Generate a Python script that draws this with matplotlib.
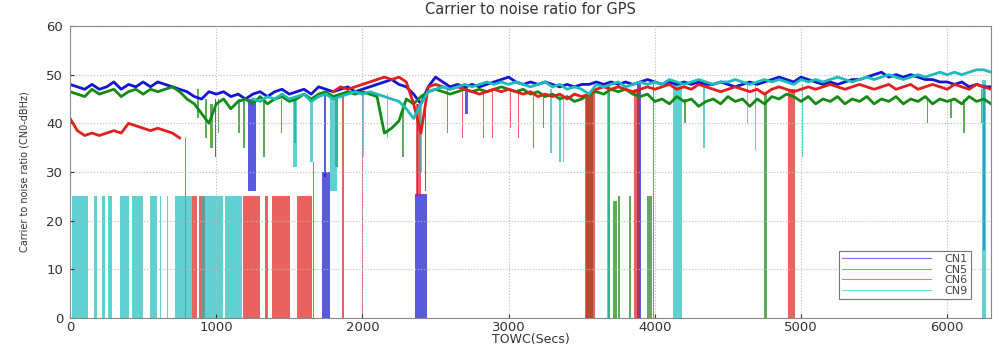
import numpy as np
import matplotlib
matplotlib.use('Agg')
import matplotlib.pyplot as plt
from matplotlib.lines import Line2D

nan = np.nan

# sample times (s), one level every 50 s
towc = np.arange(0, 6301, 50)

cn1_level = [48, 47.5, 47, 48, 47, 47.5, 48.5, 47, 48, 47.5,
             48.5, 47.5, 48.5, 48, 47.5, 47, 46.5, 45.5, 45, 46.5,
             46, 46.5, 45.5, 46, 45, 46, 46.5, 45.5, 46.5, 47,
             46, 46.5, 47, 46, 47.5, 47, 46.5, 47, 47.5, 46.5,
             47, 47.5, 48, 48.5, 49, 48, 47.5, 46, 44, 47.5,
             49.5, 48.5, 47.5, 48, 47.5, 48, 47.5, 48, 48.5, 49,
             49.5, 48.5, 48, 48.5, 48, 48.5, 48, 47.5, 48, 47.5,
             48, 48, 48.5, 48, 48.5, 48, 48.5, 48, 48.5, 49,
             48.5, 48, 48.5, 48, 48.5, 48, 48.5, 48, 48, 48.5,
             48, 47.5, 48, 48.5, 48, 48.5, 49, 49.5, 49, 48.5,
             49.5, 49, 48.5, 48, 48.5, 48, 48.5, 49, 49, 49.5,
             50, 50.5, 49.5, 50, 49.5, 50, 49.5, 49, 49, 48.5,
             48.5, 48, 48.5, 47.5, 48, 47.5, 47.5]

cn5_level = [46.5, 46, 45.5, 47, 46, 46.5, 47, 45.5, 46.5, 47,
             46, 47, 46.5, 47, 47.5, 46.5, 45, 44, 42, 40,
             44, 45, 43, 44.5, 45, 44, 45.5, 44, 45, 45.5,
             44.5, 45, 46, 45, 46, 46.5, 45.5, 46, 46.5, 46,
             46.5, 46, 45.5, 38, 39, 40.5, 45, 44, 45.5, 46.5,
             47, 46.5, 46, 46.5, 47, 46.5, 47, 46.5, 47, 47.5,
             47, 46.5, 47, 46, 46.5, 45.5, 46, 45, 45.5, 44.5,
             45, 46, 46.5, 46, 47, 46.5, 47, 46, 45.5, 46,
             44.5, 45, 44, 45.5, 44.5, 45, 43.5, 44.5, 45, 44,
             45.5, 44.5, 45, 43.5, 45, 44, 45.5, 45, 46, 45.5,
             44.5, 45.5, 44, 45, 44.5, 45.5, 44, 45, 44.5, 45.5,
             44, 45, 44.5, 45.5, 44, 45, 44.5, 45.5, 44, 45,
             44.5, 45, 44, 45.5, 44.5, 45, 44]

cn6_level = [41, 38.5, 37.5, 38, 37.5, 38, 38.5, 38, 40, 39.5,
             39, 38.5, 39, 38.5, 38, 37, nan, nan, nan, nan,
             nan, nan, nan, nan, nan, nan, nan, nan, nan, nan,
             nan, nan, nan, nan, nan, nan, 46.5, 47.5, 47, 47.5,
             48, 48.5, 49, 49.5, 49, 49.5, 48.5, 44, 38, 47.5,
             48, 47.5, 47, 47.5, 47, 46.5, 46, 46.5, 47, 46.5,
             47, 46.5, 46, 46.5, 45.5, 46, 45.5, 46, 45, 46,
             45.5, 46, 47, 47.5, 47, 47.5, 47, 46.5, 47, 47.5,
             47, 47.5, 48, 47, 47.5, 47, 48, 47.5, 47, 46.5,
             47, 47.5, 47, 46.5, 47, 46, 47, 47.5, 47, 46.5,
             47, 47.5, 47, 47.5, 48, 47.5, 47, 47.5, 48, 47.5,
             47, 47.5, 48, 47, 47.5, 48, 47, 47.5, 48, 47.5,
             47, 48, 47.5, 47, 48, 47.5, 47]

cn9_level = [nan, nan, nan, nan, nan, nan, nan, nan, nan, nan,
             nan, nan, nan, nan, nan, nan, nan, nan, nan, nan,
             nan, nan, nan, nan, nan, 45, 44.5, 45.5, 45, 46,
             45, 45.5, 46, 44.5, 45.5, 46, 45, 45.5, 46, 46.5,
             46, 46.5, 46, 45.5, 45, 44.5, 43, 41, 44, 46.5,
             47, 47.5, 47, 47.5, 48, 47.5, 48, 48.5, 48, 48.5,
             48, 48.5, 48, 47.5, 48, 48.5, 47.5, 48, 47, 47.5,
             47, 46, 48, 47.5, 48, 48.5, 47.5, 48, 48.5, 48,
             48.5, 48, 49, 48.5, 48, 48.5, 49, 48.5, 48, 48.5,
             48.5, 49, 48.5, 48, 48.5, 49, 48.5, 49, 48.5, 48,
             49, 48.5, 49, 48.5, 49, 49.5, 49, 48.5, 49, 49.5,
             49, 49.5, 50, 49.5, 49, 49.5, 50, 49.5, 50, 50.5,
             50, 50.5, 50, 50.5, 51, 51, 50.5]

# signal drop-outs: (start s, end s, lowest dB-Hz, highest dB-Hz)
cn1_drops = [(990, 1000, 33, 45), (1220, 1270, 26, 45), (1725, 1780, 0, 30),
             (1740, 1748, 29, 46), (2360, 2440, 0, 25.5), (2375, 2383, 25, 44),
             (2425, 2432, 26, 44), (2700, 2720, 42, 48), (3880, 3905, 0, 48),
             (6245, 6258, 14, 48)]

cn5_drops = [(870, 880, 41, 47), (920, 935, 37, 45), (960, 975, 35, 44),
             (1010, 1020, 38, 45), (1150, 1160, 38, 45), (1185, 1200, 35, 45),
             (1320, 1335, 33, 45), (1440, 1450, 38, 45), (1530, 1545, 36, 45),
             (1812, 1830, 31, 45), (2270, 2285, 33, 44), (3530, 3580, 0, 46),
             (3680, 3690, 0, 48), (3715, 3740, 0, 24), (3750, 3765, 0, 25),
             (3825, 3835, 0, 25), (3945, 3980, 0, 25), (3988, 3996, 0, 48),
             (4200, 4210, 40, 45), (4745, 4765, 0, 46), (5860, 5870, 40, 45),
             (6020, 6030, 41, 45), (6110, 6120, 38, 45)]

cn6_drops = [(787, 795, 0, 37), (835, 870, 0, 25), (880, 925, 0, 25),
             (1185, 1300, 0, 25), (1335, 1355, 0, 25), (1380, 1505, 0, 25),
             (1550, 1655, 0, 25), (1660, 1668, 0, 32), (1862, 1872, 0, 46),
             (2000, 2006, 0, 46), (2365, 2400, 25, 44), (2578, 2586, 38, 47),
             (2680, 2688, 37, 47), (2825, 2833, 37, 47), (2885, 2893, 37, 47),
             (3010, 3018, 39, 47), (3065, 3073, 37, 46), (3167, 3175, 35, 46),
             (3235, 3243, 39, 46), (3525, 3590, 0, 46), (3855, 3900, 0, 47),
             (4910, 4960, 0, 47), (6230, 6240, 40, 47)]

cn9_drops = [(14, 123, 0, 25), (165, 185, 0, 25), (220, 240, 0, 25),
             (260, 290, 0, 25), (340, 400, 0, 25), (425, 500, 0, 25),
             (545, 595, 0, 25), (615, 622, 0, 25), (665, 672, 0, 25),
             (720, 790, 0, 25), (790, 835, 0, 25), (900, 1045, 0, 25),
             (1060, 1175, 0, 25), (1525, 1550, 31, 45), (1640, 1660, 32, 45),
             (1780, 1825, 26, 45), (2000, 2008, 33, 46), (2170, 2178, 37, 46),
             (2395, 2405, 30, 44), (3283, 3300, 34, 47), (3345, 3360, 32, 46),
             (3372, 3380, 32, 46), (3675, 3688, 0, 48), (4125, 4185, 0, 48),
             (4330, 4340, 35, 48), (4630, 4640, 40, 48), (4685, 4695, 34.5, 48),
             (5007, 5015, 33, 48), (6238, 6262, 0, 49)]

series = [
    ('CN1', cn1_level, cn1_drops, '#1414d2'),
    ('CN5', cn5_level, cn5_drops, '#138a13'),
    ('CN6', cn6_level, cn6_drops, '#e0201c'),
    ('CN9', cn9_level, cn9_drops, '#1cbcbc'),
]

fig = plt.figure(figsize=(10.02, 3.44), dpi=100)
ax = fig.add_axes([0.0699, 0.0756, 0.9192, 0.8488])

for name, level, drops, col in series:
    for t0, t1, lo, hi in drops:
        ax.bar(t0, hi - lo, width=t1 - t0, bottom=lo, align='edge',
               color=col, alpha=0.7, linewidth=0)
    ax.plot(towc, level, color=col, linewidth=2.0)

ax.set_xlim(0, 6300)
ax.set_ylim(0, 60)
ax.set_xticks([0, 1000, 2000, 3000, 4000, 5000, 6000])
ax.set_yticks([0, 10, 20, 30, 40, 50, 60])
ax.grid(True, linestyle=':', color='#bbbbbb', linewidth=0.8)
ax.tick_params(direction='in', labelsize=9.5, colors='#333333', length=3)
ax.tick_params(axis='x', pad=2)
ax.tick_params(axis='y', pad=5)
for s in ax.spines.values():
    s.set_color('#888888')

ax.set_title('Carrier to noise ratio for GPS', fontsize=10.5, color='#333333', pad=9)
ax.set_xlabel('TOWC(Secs)', fontsize=9, color='#333333')
ax.xaxis.set_label_coords(0.5, -0.072)
ax.xaxis.label.set_va('center')
ax.set_ylabel('Carrier to noise ratio (CN0-dBHz)', fontsize=7, color='#333333', labelpad=12)

handles = [Line2D([0], [0], color=c, linewidth=0.8, alpha=0.6) for _, _, _, c in series]
leg = ax.legend(handles, [s[0] for s in series], loc='lower right',
                bbox_to_anchor=(0.978, 0.065), borderaxespad=0, fontsize=8,
                handlelength=8, fancybox=False, framealpha=1,
                edgecolor='#777777', borderpad=0.3, labelspacing=0.05,
                handletextpad=1.2)
leg.get_frame().set_linewidth(0.8)
for txt in leg.get_texts():
    txt.set_color('#444444')

fig.savefig('out.png', dpi=100)
